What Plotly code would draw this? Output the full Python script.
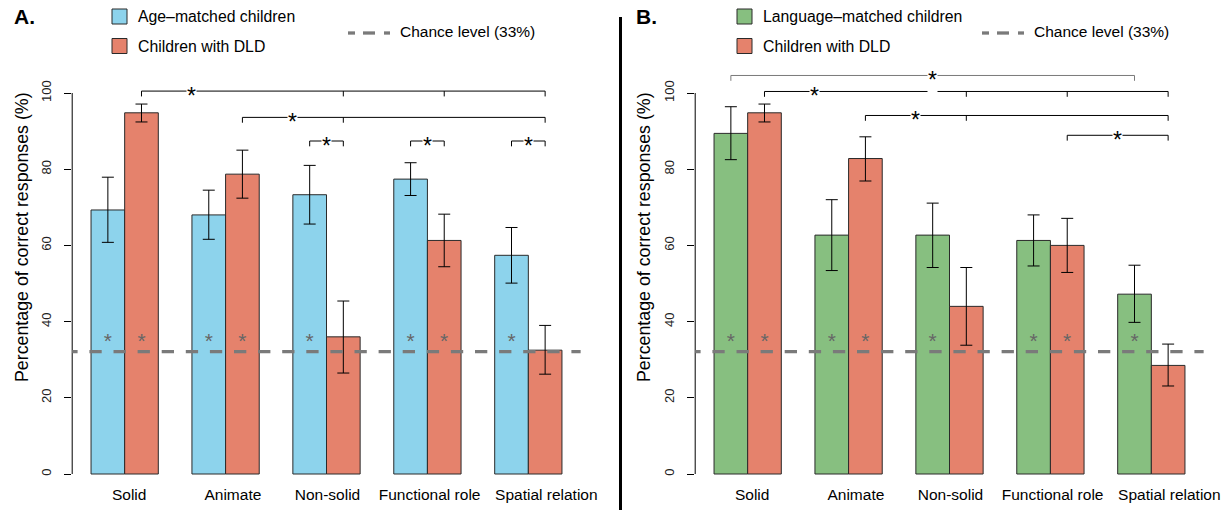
import plotly.graph_objects as go

# ---------------- data ----------------
categories = ["Solid", "Animate", "Non-solid", "Functional role", "Spatial relation"]

# Panel A
a_age_mean = [69.3, 68.0, 73.3, 77.4, 57.4]
a_age_lo = [60.8, 61.6, 65.6, 73.1, 50.1]
a_age_hi = [77.9, 74.5, 81.0, 81.7, 64.7]
a_dld_mean = [94.8, 78.7, 36.0, 61.3, 32.5]
a_dld_lo = [92.4, 72.4, 26.5, 54.4, 26.2]
a_dld_hi = [97.1, 85.0, 45.4, 68.2, 39.0]
a_age_above_chance = [True, True, True, True, True]
a_dld_above_chance = [True, True, False, True, False]

# Panel B
b_lang_mean = [89.4, 62.7, 62.7, 61.3, 47.2]
b_lang_lo = [82.5, 53.4, 54.2, 54.6, 39.8]
b_lang_hi = [96.4, 72.0, 71.1, 68.0, 54.8]
b_dld_mean = [94.8, 82.8, 44.0, 60.0, 28.5]
b_dld_lo = [92.4, 76.9, 33.8, 52.9, 23.1]
b_dld_hi = [97.1, 88.5, 54.2, 67.1, 34.1]
b_lang_above_chance = [True, True, True, True, True]
b_dld_above_chance = [True, True, False, True, False]

chance_level = 32.1
y_ticks = [0, 20, 40, 60, 80, 100]

# significance brackets: (level, x positions in bar units, star x, colour)
a_brackets = [
    (100.5, [2.5, 8.5, 11.5, 14.5], 4.0, "black"),
    (93.6, [5.5, 8.5, 14.5], 7.0, "black"),
    (87.4, [7.5, 8.5], 8.0, "black"),
    (87.4, [10.5, 11.5], 11.0, "black"),
    (87.4, [13.5, 14.5], 14.0, "black"),
]
b_brackets = [
    (104.6, [1.5, 13.5], 7.5, "#7a7a7a"),
    (100.4, [2.5, 8.5, 11.5, 14.5], 4.0, "black"),
    (94.1, [5.5, 8.5, 14.5], 7.0, "black"),
    (88.9, [11.5, 14.5], 13.0, "black"),
]

# ---------------- layout constants ----------------
W, H = 1225, 510
FONT = "Liberation Sans, Arial, Helvetica, sans-serif"
BLUE = "#8DD3EC"
RED = "#E5826C"
GREEN = "#87BF80"
GREY = "#7a7a7a"

Y0_PX, Y100_PX = 474.0, 93.0
PPU_Y = (Y0_PX - Y100_PX) / 100.0
Y_RANGE = [-2.5, 108]
y_bot_px = Y0_PX - Y_RANGE[0] * PPU_Y
y_top_px = Y0_PX - Y_RANGE[1] * PPU_Y
Y_DOMAIN = [1 - y_bot_px / H, 1 - y_top_px / H]
X_RANGE = [0.44, 15.56]
PX_PER_UNIT_X = 33.64
# small horizontal nudges of the category labels (pixels), as in the original
label_nudge_px = [4.5, 7.3, 1.0, 2.2, 18.0]

panels = [
    dict(xa="x", ya="y", left=72.2, right=580.8),
    dict(xa="x2", ya="y2", left=695.2, right=1203.8),
]


def px_x(p):
    return p / W


def px_y(p):
    return 1 - p / H


fig = go.Figure()

blue_x = [1.5 + 3 * g for g in range(len(categories))]
red_x = [2.5 + 3 * g for g in range(len(categories))]
label_x = [2.0 + 3 * g + n / PX_PER_UNIT_X for g, n in enumerate(label_nudge_px)]


def add_bars(means, lo, hi, xs, color, xa, ya):
    fig.add_trace(go.Bar(
        x=xs, y=means, width=1.0, xaxis=xa, yaxis=ya,
        marker=dict(color=color, line=dict(color="#2a2a2a", width=1)),
        error_y=dict(type="data", symmetric=False,
                     array=[h - m for h, m in zip(hi, means)],
                     arrayminus=[m - l for m, l in zip(means, lo)],
                     color="black", thickness=1, width=6),
        showlegend=False, hoverinfo="skip"))


def add_stars(flags, xs, xa, ya):
    sx = [x for x, f in zip(xs, flags) if f]
    fig.add_trace(go.Scatter(
        x=sx, y=[34.4] * len(sx), mode="text", text=["*"] * len(sx),
        textposition="middle center",
        textfont=dict(family=FONT, size=21, color="#666666"),
        xaxis=xa, yaxis=ya, showlegend=False, hoverinfo="skip"))


add_bars(a_age_mean, a_age_lo, a_age_hi, blue_x, BLUE, "x", "y")
add_bars(a_dld_mean, a_dld_lo, a_dld_hi, red_x, RED, "x", "y")
add_stars(a_age_above_chance, blue_x, "x", "y")
add_stars(a_dld_above_chance, red_x, "x", "y")

add_bars(b_lang_mean, b_lang_lo, b_lang_hi, blue_x, GREEN, "x2", "y2")
add_bars(b_dld_mean, b_dld_lo, b_dld_hi, red_x, RED, "x2", "y2")
add_stars(b_lang_above_chance, blue_x, "x2", "y2")
add_stars(b_dld_above_chance, red_x, "x2", "y2")

shapes = []
annotations = []

for p, brackets in zip(panels, [a_brackets, b_brackets]):
    xa, ya = p["xa"], p["ya"]
    # y axis line (0..100)
    shapes.append(dict(type="line", xref="paper", yref="paper",
                       x0=px_x(p["left"]), x1=px_x(p["left"]),
                       y0=px_y(Y0_PX), y1=px_y(Y100_PX),
                       line=dict(color="black", width=1)))
    # chance line
    shapes.append(dict(type="line", xref=xa, yref=ya, x0=0.235, x1=X_RANGE[1],
                       y0=chance_level, y1=chance_level, layer="above",
                       line=dict(color=GREY, width=3.3, dash="12.3px,11.8px")))
    # brackets
    for level, xs, star_x, col in brackets:
        shapes.append(dict(type="line", xref=xa, yref=ya, x0=xs[0], x1=xs[-1],
                           y0=level, y1=level, line=dict(color=col, width=1)))
        for xv in xs:
            shapes.append(dict(type="line", xref=xa, yref=ya, x0=xv, x1=xv,
                               y0=level, y1=level - 1.4, line=dict(color=col, width=1)))
        annotations.append(dict(xref=xa, yref=ya, x=star_x, y=level, text="*",
                                showarrow=False, yanchor="middle", yshift=-5,
                                bgcolor="white", borderpad=0,
                                font=dict(family=FONT, size=23, color="black")))

# panel divider
shapes.append(dict(type="line", xref="paper", yref="paper",
                   x0=px_x(620.5), x1=px_x(620.5), y0=px_y(17), y1=0,
                   line=dict(color="black", width=3)))

# legends (manual, R-style)
legend_specs = [
    dict(label_x=12, label="A.", sq_x=112, t_x=136, names=["Age\u2013matched children", "Children with DLD"],
         colors=[BLUE, RED], ch_x=348, ch_t=398),
    dict(label_x=634, label="B.", sq_x=737, t_x=761, names=["Language\u2013matched children", "Children with DLD"],
         colors=[GREEN, RED], ch_x=982, ch_t=1032),
]
for spec in legend_specs:
    annotations.append(dict(xref="paper", yref="paper", x=px_x(spec["label_x"]), y=px_y(17),
                            xanchor="left", yanchor="middle", showarrow=False, text="<b>" + spec["label"] + "</b>",
                            font=dict(family=FONT, size=21, color="black")))
    for i, (nm, col) in enumerate(zip(spec["names"], spec["colors"])):
        cy = 16.5 + 29.5 * i
        shapes.append(dict(type="rect", xref="paper", yref="paper",
                           x0=px_x(spec["sq_x"]), x1=px_x(spec["sq_x"] + 15),
                           y0=px_y(cy - 7.5), y1=px_y(cy + 7.5),
                           fillcolor=col, line=dict(color="#2a2a2a", width=1)))
        annotations.append(dict(xref="paper", yref="paper", x=px_x(spec["t_x"]), y=px_y(cy),
                                xanchor="left", yanchor="middle", showarrow=False, text=nm,
                                font=dict(family=FONT, size=15.8, color="black")))
    cx = spec["ch_x"]
    for a, b in [(0, 7), (15, 27), (36, 42)]:
        shapes.append(dict(type="line", xref="paper", yref="paper",
                           x0=px_x(cx + a), x1=px_x(cx + b), y0=px_y(33), y1=px_y(33),
                           line=dict(color=GREY, width=3.3)))
    annotations.append(dict(xref="paper", yref="paper", x=px_x(spec["ch_t"]), y=px_y(31.5),
                            xanchor="left", yanchor="middle", showarrow=False, text="Chance level (33%)",
                            font=dict(family=FONT, size=15.5, color="black")))

# y-axis titles
for tx in [22, 644]:
    annotations.append(dict(xref="paper", yref="paper", x=px_x(tx), y=px_y(237),
                            xanchor="center", yanchor="middle", showarrow=False, textangle=-90,
                            text="Percentage of correct responses (%)",
                            font=dict(family=FONT, size=17.8, color="black")))

xaxis_common = dict(range=X_RANGE, tickmode="array", tickvals=label_x, ticktext=categories,
                    showgrid=False, zeroline=False, showline=False, ticks="", tickangle=0,
                    automargin=False,
                    tickfont=dict(family=FONT, size=15.5, color="black"), fixedrange=True)
yaxis_common = dict(range=Y_RANGE, domain=Y_DOMAIN, tickmode="array", tickvals=y_ticks,
                    showgrid=False, zeroline=False, showline=False, ticks="outside",
                    ticklen=7, tickwidth=1, tickcolor="black", tickangle=-90, automargin=False,
                    ticklabelstandoff=8,
                    tickfont=dict(family=FONT, size=13, color="#222222"), fixedrange=True)

fig.update_layout(
    width=W, height=H, margin=dict(l=0, r=0, t=0, b=0, autoexpand=False),
    paper_bgcolor="white", plot_bgcolor="white", barmode="overlay",
    xaxis=dict(xaxis_common, domain=[px_x(panels[0]["left"]), px_x(panels[0]["right"])], anchor="y"),
    yaxis=dict(yaxis_common, anchor="x"),
    xaxis2=dict(xaxis_common, domain=[px_x(panels[1]["left"]), px_x(panels[1]["right"])], anchor="y2"),
    yaxis2=dict(yaxis_common, anchor="x2"),
    shapes=shapes, annotations=annotations, showlegend=False,
)

fig.write_html("out.html", config={"displayModeBar": False},
               post_script="document.body.style.margin='0px';")
